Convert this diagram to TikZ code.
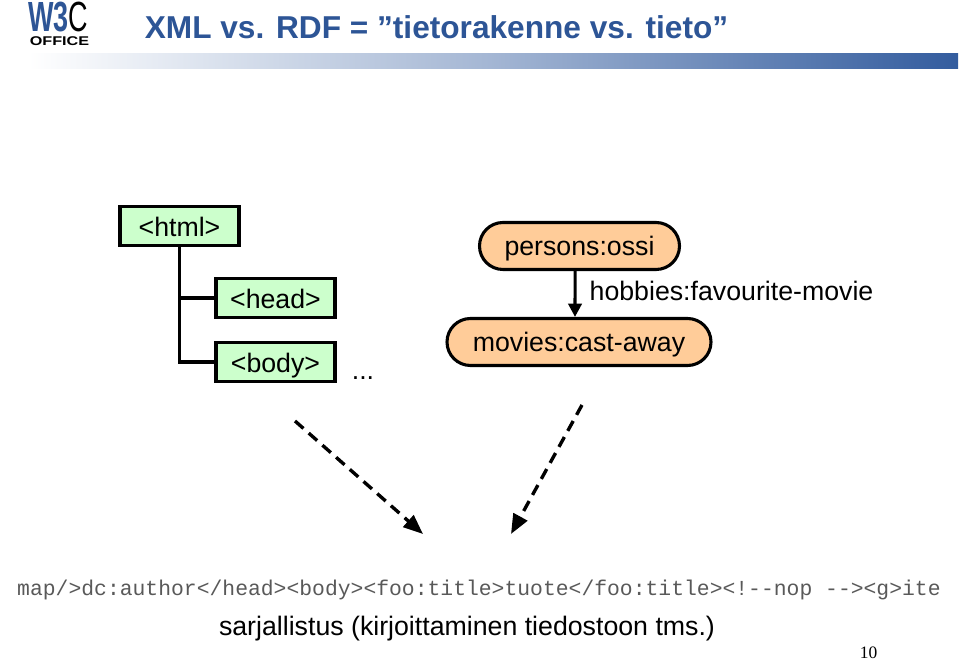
\documentclass[tikz,border=0pt]{standalone}
\usepackage{graphicx}
\usepackage{fontspec}
\setmainfont{Liberation Sans}
\newfontfamily\codefont{Liberation Mono}
\newfontfamily\pagefont{Liberation Serif}
\usetikzlibrary{arrows.meta,shapes.misc}
\definecolor{titleblue}{RGB}{45,85,150}
\definecolor{barblue}{RGB}{51,92,158}
\definecolor{treegreen}{RGB}{204,255,204}
\definecolor{resorange}{RGB}{255,204,153}

\begin{document}
\begin{tikzpicture}[x=0.025cm, y=-0.025cm]
        \useasboundingbox (0,0) rectangle (960,661);
        \tikzset{elementbox/.style={draw, line width=2.2pt, fill=treegreen, minimum width=119*0.025cm, minimum height=39*0.025cm, inner sep=0pt, text height=14.8pt, text depth=0pt, font=\fontsize{19}{20}\selectfont}}
        \tikzset{resourcebox/.style={draw, line width=2.2pt, fill=resorange, rounded rectangle, minimum height=47*0.025cm, inner sep=0pt, text height=13.5pt, text depth=0pt, font=\fontsize{19}{20}\selectfont}}
        \tikzset{plaintext/.style={inner sep=0pt, font=\fontsize{19}{20}\selectfont}}
        \tikzset{treeline/.style={line width=2.2pt}}
        \tikzset{datalink/.style={-{Triangle[length=9.5pt,width=9.5pt]}, line width=2.2pt}}
        \tikzset{mapping/.style={-{Triangle[length=14pt,width=11pt]}, line width=2.4pt, dash pattern=on 8pt off 5pt}}
        % header
        \shade[left color=white, right color=barblue, middle color=barblue!45] (28,54) rectangle (958,69);
        \node (logow) at (58,17) [inner sep=0pt, font=\fontsize{30}{30}\selectfont] {\scalebox{0.64}[1]{\textcolor{titleblue}{\bfseries W3}C}};
        \node (logooffice) at (59.5,41) [inner sep=0pt, font=\bfseries\fontsize{9}{10}\selectfont] {\scalebox{1.28}[1]{OFFICE}};
        \node (title) at (436.5,27) [inner sep=0pt, text=titleblue, font=\bfseries\fontsize{22.5}{24}\selectfont] {XML vs. RDF = ”tietorakenne vs. tieto”};
        % xml tree
        \node[elementbox] (html) at (179.5,226) {<html>};
        \node[elementbox] (head) at (275.5,298) {<head>};
        \node[elementbox] (body) at (275.5,362) {<body>};
        \node[plaintext] (dots) at (363,378) {...};
        \coordinate (fork) at (179.5,298);
        \draw[treeline] (html) -- (fork) -- (head);
        \draw[treeline] (fork) |- (body);
        % rdf graph
        \node[resourcebox, minimum width=200*0.025cm] (ossi) at (579.5,246) {persons:ossi};
        \node[resourcebox, minimum width=264*0.025cm] (castaway) at (579,342) {movies:cast-away};
        \node[plaintext] (hobbies) at (731.5,291) {hobbies:favourite-movie};
        \draw[datalink] ([xshift=-0.11cm]ossi.south) -- ([xshift=-0.1cm]castaway.north);
        % mappings
        \coordinate (treeend) at (295,421);
        \coordinate (treetip) at (423,534);
        \coordinate (graphend) at (582,405);
        \coordinate (graphtip) at (511,534);
        \draw[mapping] (treeend) -- (treetip);
        \draw[mapping] (graphend) -- (graphtip);
        % bottom
        \node (serial) at (479,589.5) [inner sep=0pt, text=black!65, font=\codefont\fontsize{15.2}{16}\selectfont] {map/>dc:author</head><body><foo:title>tuote</foo:title><!--nop --><g>ite};
        \node (caption) at (467,629) [inner sep=0pt, font=\fontsize{19}{20}\selectfont] {sarjallistus (kirjoittaminen tiedostoon tms.)};
        \node (pagenum) at (868.5,653) [inner sep=0pt, font=\pagefont\fontsize{12.4}{13}\selectfont] {10};
\end{tikzpicture}
\end{document}
